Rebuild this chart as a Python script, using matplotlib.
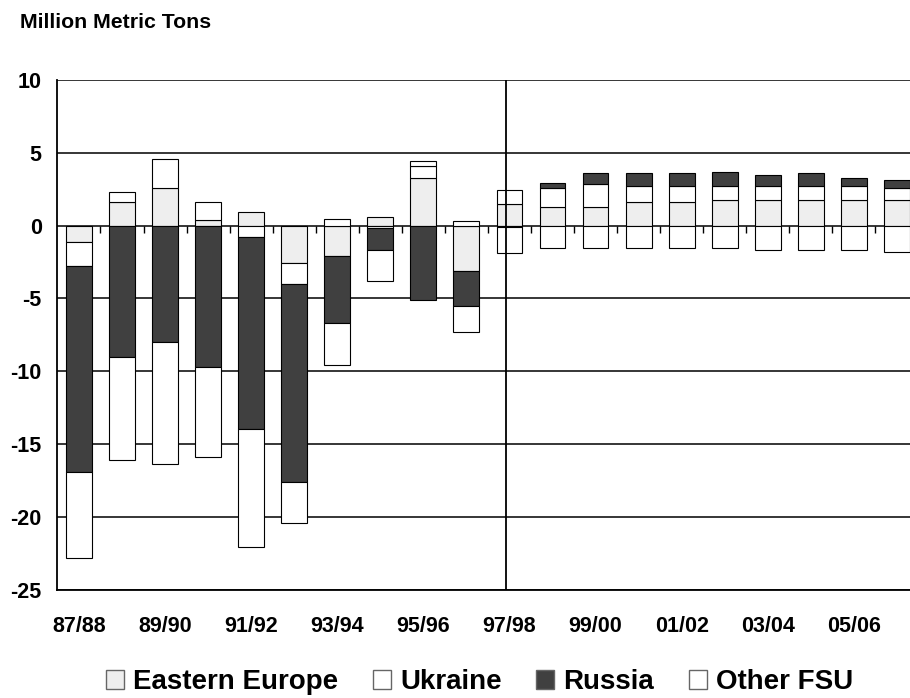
import numpy as np
import matplotlib
matplotlib.use("Agg")
import matplotlib.pyplot as plt
from matplotlib.patches import Patch

plt.rcParams["font.family"] = ["Liberation Sans", "DejaVu Sans"]
plt.rcParams["font.weight"] = "bold"
plt.rcParams["axes.unicode_minus"] = False

seasons = ["87/88", "88/89", "89/90", "90/91", "91/92", "92/93", "93/94", "94/95",
           "95/96", "96/97", "97/98", "98/99", "99/00", "00/01", "01/02", "02/03",
           "03/04", "04/05", "05/06", "06/07"]
eastern_europe = [-1.1, 1.6, 2.6, 0.4, 0.9, -2.6, -2.1, 0.6, 3.3, -3.1,
                  1.45, 1.3, 1.3, 1.6, 1.6, 1.75, 1.75, 1.75, 1.75, 1.75]
ukraine = [-1.7, 0.7, 2.0, 1.2, -0.8, -1.4, 0.45, -0.2, 0.8, 0.3,
           1.0, 1.3, 1.55, 1.1, 1.1, 0.95, 0.95, 0.95, 0.95, 0.8]
russia = [-14.1, -9.0, -8.0, -9.7, -13.2, -13.6, -4.6, -1.5, -5.1, -2.45,
          -0.1, 0.3, 0.75, 0.9, 0.9, 1.0, 0.75, 0.9, 0.6, 0.6]
other_fsu = [-5.9, -7.1, -8.4, -6.2, -8.1, -2.8, -2.9, -2.1, 0.35, -1.75,
             -1.75, -1.55, -1.55, -1.55, -1.55, -1.55, -1.65, -1.65, -1.65, -1.8]

series = [("Eastern Europe", eastern_europe, "#eeeeee"),
          ("Ukraine", ukraine, "white"),
          ("Russia", russia, "#404040"),
          ("Other FSU", other_fsu, "white")]

fig = plt.figure(figsize=(9.1, 6.98), dpi=100)
ax = fig.add_axes([57 / 910, 0.1554, 861 / 910, 0.730])

x = np.arange(len(seasons))
pos_base = np.zeros(len(seasons))
neg_base = np.zeros(len(seasons))
for name, vals, color in series:
    v = np.array(vals)
    base = np.where(v >= 0, pos_base, neg_base)
    ax.bar(x, v, 0.6, bottom=base, color=color, edgecolor="black",
           linewidth=0.8, zorder=3)
    pos_base += np.where(v >= 0, v, 0)
    neg_base += np.where(v < 0, v, 0)

ax.set_xlim(-0.51, len(seasons) - 0.51)
ax.set_ylim(-25, 10)
ax.set_yticks(np.arange(-25, 11, 5))
ax.yaxis.grid(True, color="black", linewidth=1.1, zorder=1)
ax.set_axisbelow(True)
ax.tick_params(axis="y", length=0, pad=11, labelsize=15.5)

ax.set_xticks(x[::2])
ax.set_xticklabels(seasons[::2])
ax.tick_params(axis="x", length=0, pad=19, labelsize=15.5)

for s in ["top", "right"]:
    ax.spines[s].set_visible(False)
ax.spines["left"].set_linewidth(1.3)
ax.spines["bottom"].set_linewidth(1.3)

# small category ticks hanging from the zero line
zero_ax = ax.secondary_xaxis(25 / 35)
zero_ax.set_xticks(x[:-1] + 0.5)
zero_ax.tick_params(axis="x", direction="out", length=5, width=1,
                    labelbottom=False, labeltop=False, bottom=True, top=False)
for s in zero_ax.spines.values():
    s.set_visible(False)

# split between history and projections
split = seasons.index("97/98")
ax.axvline(split - 0.07, color="black", linewidth=1.3, zorder=4)

fig.text(20 / 910, 1 - 23 / 698, "Million Metric Tons", fontsize=15.3,
         fontweight="bold", ha="left", va="center")

handles = [Patch(facecolor=c, edgecolor="#666666", linewidth=1, label=n)
           for n, _, c in series]
fig.legend(handles=handles, loc="center", ncol=4, frameon=False,
           bbox_to_anchor=(0.527, 1 - 682 / 698), fontsize=20,
           handlelength=0.65, handleheight=0.65, handletextpad=0.32,
           columnspacing=1.25, borderaxespad=0)

fig.savefig("out.png", dpi=100)
